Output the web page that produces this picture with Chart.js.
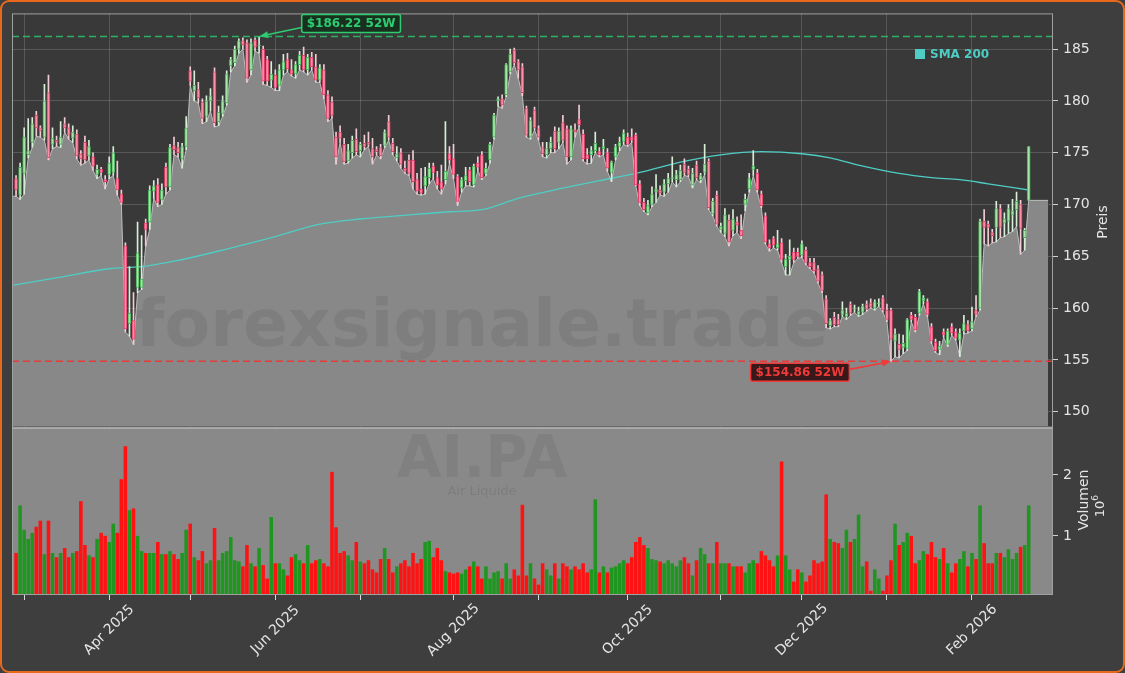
<!DOCTYPE html>
<html>
<head>
<meta charset="utf-8">
<script src="https://cdn.jsdelivr.net/npm/chart.js@4.4.1/dist/chart.umd.min.js"></script>
<style>
  html, body { margin: 0; padding: 0; background: #3e3e3e; }
  #wrap { position: relative; width: 1125px; height: 673px; overflow: hidden; }
  #wrap canvas { position: absolute; left: 0; top: 0; }
  #frame { position: absolute; left: 0; top: 0; width: 1125px; height: 673px; box-sizing: border-box;
           border: 2px solid #e8691c; border-radius: 9px; pointer-events: none; }
</style>
</head>
<body>
<div id="wrap">
  <canvas id="vol" width="1125" height="673" style="width:1125px;height:673px"></canvas>
  <canvas id="price" width="1125" height="440" style="width:1125px;height:440px"></canvas>
  <div id="frame"></div>
</div>
<script>
// Daily candles AI.PA, 27 Feb 2025 .. 20 Feb 2026 (index = trading day)
const opens = [
  172.5,170.9,173.0,174.8,176.0,178.6,177.4,176.5,180.8,175.8,
  176.2,175.8,177.8,177.4,176.4,176.8,174.9,176.0,174.7,174.6,
  172.9,173.4,172.4,172.9,173.1,172.5,171.0,166.0,158.5,158.8,
  162.0,162.0,168.2,168.3,171.3,171.9,170.5,173.6,171.7,175.7,
  175.5,174.4,175.6,182.9,181.0,181.1,179.9,178.5,180.0,182.8,
  178.0,178.8,179.8,183.4,183.7,185.0,185.8,185.6,183.0,185.9,
  185.3,185.0,184.0,182.0,182.5,181.5,183.0,184.0,183.0,182.6,
  183.5,184.4,183.0,184.2,183.3,182.0,183.0,180.6,179.9,176.5,
  177.0,175.8,174.2,175.0,176.3,175.2,175.9,176.0,175.4,175.3,
  175.5,175.7,178.0,175.9,174.5,175.0,173.5,174.3,174.3,172.4,
  171.5,171.8,172.6,173.7,172.6,172.2,172.4,174.9,174.4,172.7,
  171.6,172.3,173.3,171.9,174.0,174.8,173.0,174.3,176.5,180.0,
  180.2,180.6,182.8,184.9,183.8,183.3,179.3,176.5,179.1,177.3,
  175.5,174.8,175.4,177.1,176.0,177.9,177.3,174.6,177.2,178.2,
  176.8,174.8,174.8,175.2,175.1,175.4,175.0,173.1,174.6,175.6,
  176.1,176.5,176.5,176.7,172.0,170.2,169.2,170.0,171.2,171.4,
  171.2,172.0,172.5,172.4,172.4,173.9,173.4,171.9,173.8,172.4,
  173.1,174.2,169.1,170.9,167.6,167.2,168.5,167.5,168.3,167.5,
  170.0,171.5,173.4,173.0,171.0,168.9,166.2,166.7,165.8,166.3,
  164.0,164.7,165.4,165.4,165.1,165.6,164.4,164.4,163.8,163.2,
  160.9,158.3,159.1,158.9,159.4,159.2,160.4,159.9,159.4,159.6,
  160.4,160.5,160.0,160.4,161.0,159.8,159.8,156.8,156.5,156.2,
  156.1,159.3,159.1,159.5,160.7,160.6,158.2,156.7,156.0,157.7,
  156.5,158.2,157.7,156.9,157.8,158.4,158.0,159.8,160.0,168.4,
  168.1,167.3,167.8,169.6,168.2,168.4,169.0,169.5,170.0,166.8,170.4
];
const highs = [
  172.8,174.0,177.4,178.3,178.4,179.0,177.6,181.6,182.5,177.4,
  176.6,178.0,178.4,177.8,177.6,177.2,175.2,176.6,176.2,175.0,
  173.8,173.6,172.8,174.6,175.6,174.2,171.4,166.3,164.0,161.5,
  168.3,167.0,168.6,171.8,172.3,172.5,172.0,174.0,175.8,176.5,
  176.0,175.9,178.5,183.3,182.9,181.8,180.2,180.5,181.2,183.2,
  179.5,180.5,182.9,184.2,185.3,186.0,186.1,185.9,186.0,186.1,
  186.22,185.3,184.3,183.8,183.0,183.5,184.5,184.6,184.0,183.8,
  184.8,185.2,184.5,184.7,184.5,183.5,183.5,181.0,180.4,177.0,
  177.6,176.4,175.8,176.6,177.3,176.0,176.7,177.0,176.4,175.6,
  175.8,177.2,178.6,176.4,175.6,175.4,174.2,174.8,175.2,173.0,
  173.5,173.6,174.0,174.0,173.2,173.8,178.0,175.6,175.8,172.9,
  172.6,173.6,173.6,173.9,174.6,175.1,174.0,176.0,178.8,180.4,
  180.6,183.6,185.0,185.1,184.0,183.6,179.5,178.4,179.4,177.6,
  176.0,176.0,176.5,177.5,177.4,178.6,177.6,177.6,177.8,179.6,
  177.2,175.4,175.6,177.0,175.5,176.3,175.4,174.2,175.8,176.5,
  177.2,176.9,177.3,176.9,172.3,170.6,170.4,171.7,172.9,171.8,
  172.4,173.0,174.6,173.3,173.8,174.4,173.7,173.5,174.2,173.0,
  175.8,174.4,170.6,171.3,168.2,169.6,169.0,169.5,168.8,169.0,
  171.0,173.0,175.2,173.4,171.3,169.2,166.6,166.9,167.5,166.7,
  165.2,166.6,165.8,165.8,166.5,165.9,164.8,164.8,164.1,163.5,
  161.2,159.0,159.6,159.4,160.6,160.0,160.6,160.3,160.1,160.4,
  160.7,160.9,160.8,160.9,161.2,160.4,160.0,158.0,157.5,157.4,
  159.0,159.6,159.4,161.8,161.2,160.9,158.5,157.0,156.8,158.0,
  158.0,158.5,158.0,158.0,159.3,158.8,160.1,161.2,168.6,169.5,
  168.4,167.6,170.3,170.0,169.2,170.0,170.5,171.2,170.4,167.7,175.6
];
const lows = [
  170.8,170.5,171.0,174.5,175.5,176.6,176.5,176.2,174.3,175.4,
  175.6,175.5,177.0,176.3,176.0,174.4,173.8,174.0,174.3,173.3,
  172.5,172.8,171.5,172.5,172.8,170.9,170.0,157.7,157.3,156.5,
  161.5,161.8,166.0,167.6,170.6,169.8,170.0,171.0,171.4,174.8,
  174.6,173.5,175.3,181.5,180.0,179.8,177.8,178.0,179.0,177.5,
  177.6,178.5,179.6,182.8,183.4,184.6,185.0,181.8,182.5,184.8,
  184.6,181.6,181.5,181.3,181.0,181.0,182.5,182.8,182.4,182.2,
  183.0,182.8,182.5,183.0,181.8,181.8,180.2,178.0,178.3,173.9,
  176.0,173.9,174.0,174.5,174.8,174.6,175.3,175.6,173.9,174.8,
  174.4,175.5,176.2,174.8,174.2,173.5,173.0,172.8,171.5,171.0,
  170.9,171.0,172.0,172.5,171.5,171.0,172.0,174.0,172.5,169.9,
  171.2,171.8,171.8,171.7,173.3,172.4,172.8,174.0,176.3,179.5,
  179.3,180.4,182.6,183.5,182.2,180.5,176.5,176.3,177.2,176.2,
  174.6,174.5,175.0,175.0,175.4,176.0,173.9,174.3,176.5,177.5,
  174.2,173.9,174.0,175.0,174.6,174.8,173.2,172.2,174.3,175.2,
  175.8,175.6,176.0,171.8,169.9,169.3,169.0,169.8,170.2,170.9,
  170.8,171.2,172.2,171.7,172.2,172.8,172.7,171.6,172.4,172.1,
  172.9,169.5,168.9,167.9,167.3,166.9,166.0,167.0,167.3,166.7,
  169.4,171.2,172.8,171.2,169.7,166.2,165.5,165.8,165.6,164.4,
  163.2,163.2,164.4,164.8,164.9,164.2,163.8,163.4,162.4,161.5,
  158.1,158.0,158.2,158.2,159.2,158.9,159.3,159.6,159.2,159.4,
  159.7,160.0,159.8,160.2,159.6,158.7,154.86,155.3,155.2,155.6,
  155.9,158.7,157.7,159.3,160.4,159.2,156.6,155.7,155.5,157.2,
  156.3,157.4,156.9,155.3,157.5,157.6,157.8,159.2,159.8,166.2,
  166.0,166.3,166.4,166.8,166.9,167.2,167.4,167.9,165.2,165.6,170.4
];
const closes = [
  171.4,173.6,176.5,175.2,177.8,177.4,177.1,180.0,174.5,176.4,
  176.0,176.5,177.4,176.7,177.0,174.7,174.4,174.3,175.6,173.7,
  173.4,173.1,172.2,174.0,175.0,171.4,170.2,158.0,159.5,157.0,
  165.3,162.8,167.6,171.4,171.8,170.2,171.4,171.7,175.5,175.3,
  175.0,175.6,177.4,181.9,181.5,180.3,178.3,180.0,180.5,177.9,
  178.9,180.0,182.6,184.0,185.0,185.8,185.4,182.2,185.6,185.2,
  185.4,181.9,181.9,182.6,181.3,183.0,183.8,183.1,182.6,183.5,
  184.4,183.0,184.2,183.3,182.0,183.2,180.6,178.3,178.6,174.6,
  176.4,174.1,175.2,176.2,175.1,175.8,175.6,175.8,174.6,175.1,
  174.7,177.0,176.5,175.1,174.9,173.9,173.2,173.0,172.2,171.3,
  171.1,172.7,173.5,173.1,171.9,171.5,173.2,174.3,172.9,170.3,
  172.4,172.8,172.2,173.7,173.6,172.6,173.5,175.8,178.6,180.2,
  179.6,183.5,184.5,183.7,183.0,180.8,176.7,178.1,177.4,176.5,
  174.9,175.4,176.0,175.4,177.1,176.2,174.6,177.3,177.0,177.7,
  174.4,174.4,175.2,175.9,174.8,175.6,173.5,174.1,175.6,176.0,
  176.9,175.8,176.2,171.9,170.2,169.5,169.9,171.0,171.5,171.1,
  172.0,172.5,172.6,172.9,173.3,173.1,172.9,173.0,172.6,172.8,
  173.9,169.7,170.3,168.1,167.9,169.0,166.4,168.6,168.0,167.0,
  170.5,172.5,173.7,171.4,169.9,166.4,165.8,166.1,166.2,164.7,
  164.7,165.0,164.7,165.0,166.2,164.4,164.0,163.6,162.6,161.7,
  158.5,158.8,158.4,158.4,159.8,159.5,159.5,159.9,159.7,160.2,
  159.9,160.1,160.6,160.5,159.8,158.9,157.0,157.5,156.0,156.6,
  158.9,158.9,157.9,161.6,161.0,159.4,156.8,155.9,156.3,157.4,
  157.8,157.6,157.1,157.6,158.5,157.8,158.7,159.4,168.4,167.8,
  167.8,167.0,169.6,167.8,168.6,169.6,169.4,170.3,167.7,167.5,175.6
];
// volume in millions
const volumes = [
  0.72,1.50,1.10,0.95,1.05,1.15,1.25,0.70,1.25,0.72,
  0.65,0.72,0.80,0.65,0.72,0.75,1.57,0.85,0.68,0.65,
  0.95,1.05,1.00,0.90,1.20,1.05,1.93,2.47,1.42,1.45,
  1.00,0.75,0.72,0.72,0.72,0.90,0.70,0.70,0.75,0.70,
  0.62,0.72,1.10,1.20,0.65,0.60,0.75,0.55,0.60,1.13,
  0.60,0.72,0.75,0.98,0.60,0.58,0.50,0.85,0.55,0.50,
  0.80,0.52,0.30,1.31,0.55,0.55,0.45,0.35,0.65,0.70,
  0.60,0.55,0.85,0.55,0.60,0.62,0.55,0.50,2.05,1.14,
  0.72,0.75,0.68,0.60,0.90,0.58,0.55,0.60,0.45,0.40,
  0.62,0.80,0.62,0.40,0.50,0.55,0.60,0.50,0.72,0.55,
  0.62,0.90,0.92,0.65,0.80,0.60,0.42,0.40,0.38,0.40,
  0.38,0.45,0.50,0.58,0.50,0.30,0.50,0.30,0.40,0.42,
  0.30,0.55,0.30,0.45,0.35,1.51,0.35,0.55,0.30,0.20,
  0.55,0.45,0.35,0.55,0.30,0.55,0.50,0.45,0.50,0.45,
  0.55,0.40,0.45,1.60,0.40,0.50,0.40,0.48,0.50,0.55,
  0.60,0.55,0.65,0.90,0.98,0.85,0.80,0.62,0.60,0.58,
  0.55,0.60,0.55,0.50,0.60,0.65,0.55,0.35,0.60,0.80,
  0.70,0.55,0.55,0.90,0.55,0.55,0.55,0.50,0.50,0.50,
  0.40,0.55,0.60,0.55,0.75,0.68,0.60,0.50,0.68,2.22,
  0.68,0.45,0.25,0.45,0.40,0.25,0.35,0.60,0.55,0.58,
  1.68,0.95,0.90,0.88,0.80,1.10,0.90,0.95,1.35,0.50,
  0.58,0.10,0.45,0.30,0.10,0.35,0.60,1.20,0.85,0.90,
  1.05,1.00,0.55,0.60,0.75,0.70,0.90,0.65,0.62,0.80,
  0.55,0.40,0.55,0.62,0.75,0.50,0.72,0.62,1.50,0.88,
  0.55,0.55,0.72,0.72,0.65,0.78,0.62,0.72,0.82,0.85,1.50
];
// SMA 200 (trading-day index, value)
const smaIdx = [-1, 11, 23, 31, 40, 53, 64, 75, 85, 97, 107, 115, 124, 134, 144, 154, 164, 174, 184, 194, 201, 208, 218, 226, 233, 240, 250];
const smaVal = [162.2, 163.0, 163.8, 164.0, 164.6, 165.8, 166.9, 168.1, 168.6, 169.0, 169.3, 169.5, 170.6, 171.5, 172.3, 173.1, 174.1, 174.8, 175.1, 174.9, 174.5, 173.8, 173.0, 172.6, 172.4, 172.0, 171.4];
// low-line fill runs a little past the last candle
const fillTailEnd = 254.8;
const fillTailValue = 170.4;

const high52 = 186.22;
const low52 = 154.86;

const monthIdx = [2, 23, 43, 64, 85, 108, 129, 151, 174, 194, 215, 236];
const monthLabels = ['', 'Apr 2025', '', 'Jun 2025', '', 'Aug 2025', '', 'Oct 2025', '', 'Dec 2025', '', 'Feb 2026'];
const priceTicks = [150, 155, 160, 165, 170, 175, 180, 185];
const volTicks = [1, 2];

const X_MIN = -1, X_MAX = 256;
const PRICE_MIN = 148.56, PRICE_MAX = 188.45;
const VOL_MIN = 0.03, VOL_MAX = 2.77;

const gridCol = 'rgba(255,255,255,0.16)';
const tickCol = '#e4e4e4';
const smaColor = '#4ecdc4';
const FONT = 'DejaVu Sans';

const up = closes.map((c, i) => c >= opens[i]);

// area: lows, starting at the left edge and ending with the tail
const areaPts = [{ x: X_MIN, y: lows[0] }]
  .concat(lows.map((v, i) => ({ x: i, y: v })))
  .concat([{ x: fillTailEnd, y: fillTailValue }]);

function arrow(ctx, x1, y1, x2, y2, color) {
  const a = Math.atan2(y2 - y1, x2 - x1);
  ctx.strokeStyle = color; ctx.fillStyle = color; ctx.lineWidth = 1.6;
  ctx.beginPath(); ctx.moveTo(x1, y1);
  ctx.lineTo(x2 - 7 * Math.cos(a), y2 - 7 * Math.sin(a)); ctx.stroke();
  ctx.beginPath();
  ctx.moveTo(x2, y2);
  ctx.lineTo(x2 - 9 * Math.cos(a) + 3.5 * Math.sin(a), y2 - 9 * Math.sin(a) - 3.5 * Math.cos(a));
  ctx.lineTo(x2 - 9 * Math.cos(a) - 3.5 * Math.sin(a), y2 - 9 * Math.sin(a) + 3.5 * Math.cos(a));
  ctx.closePath(); ctx.fill();
}

function tagBox(ctx, cx, cy, text, fg, bg) {
  ctx.font = 'bold 12px "' + FONT + '"';
  const w = ctx.measureText(text).width + 10, h = 18;
  ctx.fillStyle = bg; ctx.strokeStyle = fg; ctx.lineWidth = 1.5;
  ctx.beginPath(); ctx.roundRect(cx - w / 2, cy - h / 2, w, h, 2); ctx.fill(); ctx.stroke();
  ctx.fillStyle = fg; ctx.textAlign = 'center'; ctx.textBaseline = 'middle';
  ctx.fillText(text, cx, cy + 0.5);
  return { left: cx - w / 2, right: cx + w / 2 };
}

const priceDecor = {
  id: 'priceDecor',
  beforeDraw(chart) {
    const { ctx, chartArea: a } = chart;
    ctx.save();
    ctx.fillStyle = '#393939';
    ctx.fillRect(a.left, a.top, a.right - a.left, a.bottom - a.top);
    ctx.restore();
  },
  afterDatasetsDraw(chart) {
    const { ctx, chartArea: a, scales } = chart;
    ctx.save();
    // watermark
    ctx.fillStyle = 'rgba(0,0,0,0.065)';
    ctx.textAlign = 'center'; ctx.textBaseline = 'middle';
    ctx.font = 'bold 64px "' + FONT + '"';
    const w = ctx.measureText('forexsignale.trade').width;
    ctx.font = 'bold ' + (64 * 693 / w).toFixed(1) + 'px "' + FONT + '"';
    ctx.fillText('forexsignale.trade', 482, 329);
    // 52W lines
    ctx.setLineDash([7, 4]); ctx.lineWidth = 1.5;
    let y = scales.y.getPixelForValue(high52);
    ctx.strokeStyle = 'rgba(46,190,105,0.9)';
    ctx.beginPath(); ctx.moveTo(a.left, y); ctx.lineTo(a.right, y); ctx.stroke();
    y = scales.y.getPixelForValue(low52);
    ctx.strokeStyle = 'rgba(235,55,55,0.95)';
    ctx.beginPath(); ctx.moveTo(a.left, y); ctx.lineTo(a.right, y); ctx.stroke();
    ctx.restore();
  },
  afterDraw(chart) {
    const { ctx, chartArea: a, scales } = chart;
    ctx.save();
    ctx.strokeStyle = '#a0a0a0'; ctx.lineWidth = 1;
    ctx.strokeRect(a.left + 0.5, a.top + 0.5, a.right - a.left - 1, a.bottom - a.top);
    // annotations
    const iHi = highs.indexOf(Math.max(...highs));
    const iLo = lows.indexOf(Math.min(...lows));
    const hx = scales.x.getPixelForValue(iHi), hy = scales.y.getPixelForValue(high52);
    const lx = scales.x.getPixelForValue(iLo), ly = scales.y.getPixelForValue(low52);
    const gb = tagBox(ctx, hx + 92, hy - 13, '$' + high52.toFixed(2) + ' 52W', '#2ecc71', 'rgba(22,48,30,0.95)');
    arrow(ctx, gb.left, hy - 9, hx, hy, '#2ecc71');
    const rb = tagBox(ctx, lx - 91, ly + 11, '$' + low52.toFixed(2) + ' 52W', '#f03a3a', 'rgba(52,18,18,0.95)');
    arrow(ctx, rb.right, ly + 8, lx, ly, '#f03a3a');
    // legend
    ctx.fillStyle = smaColor;
    ctx.fillRect(915, 49, 10, 10);
    ctx.font = 'bold 12px "' + FONT + '"';
    ctx.textAlign = 'left'; ctx.textBaseline = 'middle';
    ctx.fillText('SMA 200', 930, 54.5);
    ctx.restore();
  }
};

const volDecor = {
  id: 'volDecor',
  beforeDraw(chart) {
    const { ctx, chartArea: a } = chart;
    ctx.save();
    ctx.fillStyle = '#898989';
    ctx.fillRect(a.left, a.top, a.right - a.left, a.bottom - a.top);
    ctx.restore();
  },
  beforeDatasetsDraw(chart) {
    const { ctx } = chart;
    ctx.save();
    ctx.fillStyle = 'rgba(0,0,0,0.06)';
    ctx.textAlign = 'center'; ctx.textBaseline = 'middle';
    ctx.font = 'bold 58px "' + FONT + '"';
    ctx.fillText('AI.PA', 482, 462);
    ctx.fillStyle = 'rgba(0,0,0,0.09)';
    ctx.font = '13px "' + FONT + '"';
    ctx.fillText('Air Liquide', 482, 492);
    ctx.restore();
  },
  afterDraw(chart) {
    const { ctx, chartArea: a, scales } = chart;
    ctx.save();
    ctx.strokeStyle = '#a0a0a0'; ctx.lineWidth = 1;
    ctx.strokeRect(a.left + 0.5, a.top, a.right - a.left - 1, a.bottom - a.top - 0.5);
    ctx.strokeStyle = '#ababab'; ctx.lineWidth = 2;
    ctx.beginPath(); ctx.moveTo(a.left, a.top); ctx.lineTo(a.right, a.top); ctx.stroke();
    // x labels, rotated and centred on the tick
    ctx.fillStyle = tickCol;
    ctx.font = '14px "' + FONT + '"';
    ctx.textAlign = 'center'; ctx.textBaseline = 'middle';
    monthIdx.forEach((v, k) => {
      if (!monthLabels[k]) return;
      const x = scales.x.getPixelForValue(v);
      ctx.save();
      ctx.translate(x, a.bottom + 35);
      ctx.rotate(-Math.PI / 4);
      ctx.fillText(monthLabels[k], 0, 0);
      ctx.restore();
    });
    // axis titles
    const vTitle = (txt, x, y, size) => {
      ctx.save(); ctx.translate(x, y); ctx.rotate(-Math.PI / 2);
      ctx.font = size + 'px "' + FONT + '"'; ctx.fillText(txt, 0, 0); ctx.restore();
    };
    vTitle('Preis', 1103, 222, 14);
    vTitle('Volumen', 1084, 500, 14);
    ctx.save(); ctx.translate(1101, 507); ctx.rotate(-Math.PI / 2);
    ctx.font = '13px "' + FONT + '"'; ctx.textAlign = 'center';
    ctx.fillText('10', -2, 0);
    ctx.font = '9px "' + FONT + '"';
    ctx.fillText('6', 9, -5);
    ctx.restore();
    ctx.restore();
  }
};

const baseOpts = {
  responsive: false,
  animation: false,
  events: [],
  devicePixelRatio: 1,
  plugins: { legend: { display: false }, tooltip: { enabled: false } }
};

new Chart(document.getElementById('price'), {
  type: 'bar',
  data: {
    datasets: [
      {
        type: 'bar', label: 'body',
        data: opens.map((o, i) => ({ x: i, y: [o, closes[i]] })),
        backgroundColor: up.map(u => u ? '#a6e6a6' : '#ff8ea6'),
        borderColor: up.map(u => u ? '#49b05a' : '#e2406a'),
        borderWidth: 1, borderSkipped: false,
        barThickness: 3, minBarLength: 1, grouped: false, order: 0
      },
      {
        type: 'bar', label: 'wick',
        data: lows.map((l, i) => ({ x: i, y: [l, highs[i]] })),
        backgroundColor: up.map(u => u ? '#d6eed6' : '#f2ccd5'),
        borderWidth: 0, barThickness: 1, grouped: false, order: 1
      },
      {
        type: 'line', label: 'SMA 200',
        data: smaIdx.map((x, k) => ({ x: x, y: smaVal[k] })),
        borderColor: smaColor, borderWidth: 1.3, pointRadius: 0,
        cubicInterpolationMode: 'monotone', order: 2
      },
      {
        type: 'line', label: 'low',
        data: areaPts, fill: 'start',
        backgroundColor: '#888888', borderColor: 'rgba(205,205,205,0.85)',
        borderWidth: 1, pointRadius: 0, order: 3
      }
    ]
  },
  options: Object.assign({}, baseOpts, {
    layout: { padding: { left: 12, top: 12, right: 0, bottom: 12 } },
    scales: {
      x: {
        type: 'linear', min: X_MIN, max: X_MAX, offset: false,
        ticks: { display: false },
        grid: { color: gridCol, drawTicks: false, offset: false },
        border: { display: false },
        afterBuildTicks: s => { s.ticks = monthIdx.map(v => ({ value: v })); },
        afterFit: s => { s.height = 0; }
      },
      y: {
        position: 'right', min: PRICE_MIN, max: PRICE_MAX,
        ticks: { color: tickCol, font: { family: FONT, size: 14 }, padding: 5 },
        grid: { color: gridCol, tickColor: '#d0d0d0', tickLength: 5 },
        border: { display: false },
        afterBuildTicks: s => { s.ticks = priceTicks.map(v => ({ value: v })); },
        afterFit: s => { s.width = 72; }
      }
    }
  }),
  plugins: [priceDecor]
});

new Chart(document.getElementById('vol'), {
  type: 'bar',
  data: {
    datasets: [{
      label: 'Volumen',
      data: volumes.map((v, i) => ({ x: i, y: v })),
      backgroundColor: up.map(u => u ? '#1f961f' : '#ff1212'),
      borderWidth: 0, categoryPercentage: 1.0, barPercentage: 0.88
    }]
  },
  options: Object.assign({}, baseOpts, {
    layout: { padding: { left: 12, top: 428, right: 0, bottom: 0 } },
    scales: {
      x: {
        type: 'linear', min: X_MIN, max: X_MAX, offset: false,
        ticks: { display: false },
        grid: { color: 'rgba(0,0,0,0)', tickColor: '#d8d8d8', tickLength: 5, offset: false },
        border: { display: false },
        afterBuildTicks: s => { s.ticks = monthIdx.map(v => ({ value: v })); },
        afterFit: s => { s.height = 78; }
      },
      y: {
        position: 'right', min: VOL_MIN, max: VOL_MAX,
        ticks: { color: tickCol, font: { family: FONT, size: 14 }, padding: 5 },
        grid: { color: 'rgba(0,0,0,0)', tickColor: '#d0d0d0', tickLength: 5 },
        border: { display: false },
        afterBuildTicks: s => { s.ticks = volTicks.map(v => ({ value: v })); },
        afterFit: s => { s.width = 72; }
      }
    }
  }),
  plugins: [volDecor]
});
</script>
</body>
</html>
